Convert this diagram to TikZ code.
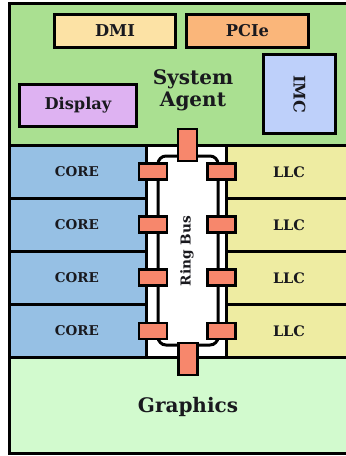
\documentclass[tikz,border=0pt]{standalone}
\usepackage{fontspec}
\setmainfont{DejaVu Serif}
\definecolor{sagreen}{RGB}{170,224,145}
\definecolor{dmicol}{RGB}{252,226,165}
\definecolor{pciecol}{RGB}{250,182,122}
\definecolor{imccol}{RGB}{190,208,250}
\definecolor{dispcol}{RGB}{222,178,242}
\definecolor{corecol}{RGB}{150,192,228}
\definecolor{llccol}{RGB}{238,236,162}
\definecolor{gfxcol}{RGB}{210,250,206}
\definecolor{linkcol}{RGB}{247,135,108}
\definecolor{txtcol}{RGB}{25,25,30}
\begin{document}
\begin{tikzpicture}[x=1pt,y=-1pt,
  region/.style={draw=black,line width=3pt,inner sep=0pt,outer sep=0pt,anchor=north west,text=txtcol,font=\bfseries},
  blk/.style={draw=black,line width=2.8pt,inner sep=0pt,outer sep=0pt,text=txtcol,font=\bfseries},
  link/.style={draw=black,line width=2.4pt,fill=linkcol,inner sep=0pt,outer sep=0pt},
  hlink/.style={link,minimum width=28pt,minimum height=16pt},
  vlink/.style={link,minimum width=19pt,minimum height=32pt},
  corebox/.style={region,fill=corecol,minimum width=137pt,minimum height=53pt},
  llcbox/.style={region,fill=llccol,minimum width=140pt,minimum height=53pt},
  lbl/.style={text=txtcol,inner sep=0pt},
]
\useasboundingbox (0,0) rectangle (346,456);
\clip (0,0) rectangle (346,456);
% system agent
\node[region,fill=sagreen,minimum width=360pt,minimum height=142pt] (sa) at (9,3.5) {};
% ring area
\node[region,fill=white,minimum width=80pt,minimum height=211.5pt] (ringarea) at (146,145.5) {};
% cores and llc
\foreach \i/\y in {1/145.5,2/198.5,3/251.5,4/304.5}{
  \node[corebox] (core\i) at (9,\y) {};
  \node[llcbox] (llc\i) at (226,\y) {};
  \node[lbl,font=\bfseries\fontsize{13.5}{15}\selectfont] (coret\i) at (77,\y+26.5) {CORE};
  \node[lbl,font=\bfseries\fontsize{14.5}{16}\selectfont] (llct\i) at (289,\y+26.5) {LLC};
}
% graphics
\node[region,fill=gfxcol,minimum width=360pt,minimum height=96pt] (gfx) at (9,357) {};
\node[lbl,font=\bfseries\fontsize{20}{23}\selectfont] (gfxt) at (188,407) {Graphics};
% system agent blocks
\node[blk,fill=dmicol,minimum width=121pt,minimum height=33pt,font=\bfseries\fontsize{16.3}{18}\selectfont] (dmi) at (115,31) {DMI};
\node[blk,fill=pciecol,minimum width=122pt,minimum height=33pt,font=\bfseries\fontsize{16.3}{18}\selectfont] (pcie) at (247.5,31) {PCIe};
\node[blk,fill=imccol,minimum width=72pt,minimum height=79pt] (imc) at (299.5,94) {};
\node[lbl,font=\bfseries\fontsize{16}{18}\selectfont,rotate=-90] (imct) at (imc.center) {IMC};
\node[blk,fill=dispcol,minimum width=117pt,minimum height=42pt,font=\bfseries\fontsize{16.2}{18}\selectfont] (disp) at (78,105.5) {Display};
\node[lbl,font=\bfseries\fontsize{20}{22}\selectfont,align=center] (sat) at (193,90) {System\\Agent};
% ring bus
\node[draw=black,line width=3pt,rounded corners=8pt,fill=white,minimum width=60pt,minimum height=189pt,inner sep=0pt] (ring) at (188,250.5) {};
\node[lbl,font=\bfseries\fontsize{13.7}{15}\selectfont,rotate=90] (ringt) at (187,251) {Ring Bus};
% ring stops
\node[vlink] (stopsa) at (187.5,145) {};
\node[vlink] (stopgfx) at (188,359) {};
\foreach \i/\y in {1/171.5,2/224.5,3/277.5,4/331}{
  \node[hlink] (stopl\i) at (153,\y) {};
  \node[hlink] (stopr\i) at (221.5,\y) {};
}
\end{tikzpicture}
\end{document}
